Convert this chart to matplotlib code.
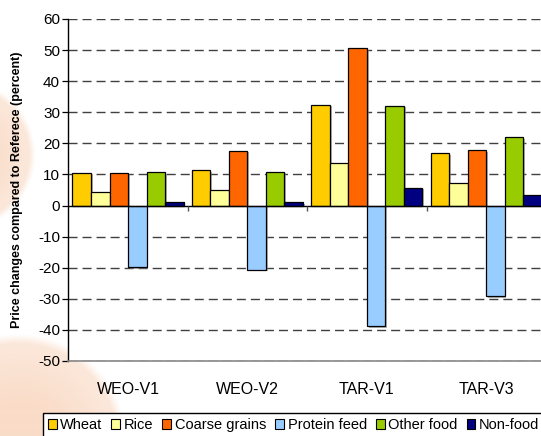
import numpy as np
import matplotlib
matplotlib.use("Agg")
import matplotlib.pyplot as plt
import matplotlib.patheffects as pe

plt.rcParams["font.family"] = ["Liberation Sans", "DejaVu Sans"]
plt.rcParams["lines.scale_dashes"] = False

categories = ["WEO-V1", "WEO-V2", "TAR-V1", "TAR-V3"]
series_names = ["Wheat", "Rice", "Coarse grains", "Protein feed", "Other food", "Non-food"]
wheat = [10.6, 11.4, 32.4, 16.8]
rice = [4.3, 5.1, 13.6, 7.1]
coarse_grains = [10.6, 17.6, 50.6, 17.9]
protein_feed = [-19.8, -20.6, -38.8, -29.2]
other_food = [10.7, 10.9, 32.1, 22.0]
non_food = [1.2, 1.1, 5.8, 3.3]
yticks = list(range(-50, 61, 10))

series = [wheat, rice, coarse_grains, protein_feed, other_food, non_food]
colors = ["#FFCC00", "#FFFF99", "#FF6600", "#99CCFF", "#99CC00", "#000080"]

W, H = 541, 436
fig = plt.figure(figsize=(W / 100, H / 100), dpi=100)

# soft peach decoration behind the chart
bg = fig.add_axes([0, 0, 1, 1], zorder=-10)
yy, xx = np.mgrid[0:H, 0:W]
img = np.ones((H, W, 3))
peach_in = np.array([250, 220, 200]) / 255
peach_out = np.array([252, 234, 222]) / 255
weight = np.zeros((H, W))
tint = np.zeros((H, W))
for cx, cy, r in [(-40, 155, 75), (18, 442, 108)]:
    d = np.hypot(xx - cx, yy - cy) / r
    w = np.clip((1.0 - d) / 0.08, 0, 1)
    weight = np.maximum(weight, w)
    tint = np.maximum(tint, np.clip(1 - d, 0, 1) * w)
for k in range(3):
    col = peach_out[k] + (peach_in[k] - peach_out[k]) * np.clip(tint * 1.6, 0, 1)
    img[..., k] = 1 - weight * (1 - col)
bg.imshow(img, extent=(0, W, H, 0), aspect="auto", interpolation="bilinear")
bg.set_axis_off()

left_px, right_px, top_px, bottom_px = 68.3, 546.0, 19.0, 361.0
ax = fig.add_axes([left_px / W, 1 - bottom_px / H, (right_px - left_px) / W,
                   (bottom_px - top_px) / H])
ax.set_facecolor("white")

n = len(series)
bw = 0.155
x = np.arange(len(categories)) + 0.5
shadow = [pe.SimplePatchShadow(offset=(1.2, -1.2), shadow_rgbFace="#808080", alpha=0.6),
          pe.Normal()]
handles = []
for j, (vals, c, name) in enumerate(zip(series, colors, series_names)):
    bars = ax.bar(x + (j - (n - 1) / 2) * bw, vals, width=bw, color=c,
                  edgecolor="black", linewidth=0.9, label=name, zorder=3)
    for b in bars:
        b.set_path_effects(shadow)
    handles.append(bars)

ax.set_xlim(0, len(categories))
ax.set_ylim(-50, 60)
ax.set_yticks(yticks)
ax.set_yticklabels([str(v) for v in yticks], fontsize=11)
ax.tick_params(axis="y", direction="out", length=4, width=0.9, pad=2, color="black")

for v in yticks:
    if v == 0:
        continue
    ax.axhline(v, color="#404040", linewidth=1.0, dashes=(6.5, 3.6), zorder=1)

ax.axhline(0, color="black", linewidth=1.0, zorder=4)
ax.vlines(np.arange(1, len(categories)), -1.6, 0, color="#555555", linewidth=1.0, zorder=4)

ax.set_xticks(x)
ax.set_xticklabels(categories, fontsize=11.5)
ax.tick_params(axis="x", length=0, pad=15)

for s in ["top", "right"]:
    ax.spines[s].set_visible(False)
ax.spines["left"].set_color("black")
ax.spines["left"].set_linewidth(1.0)
ax.spines["bottom"].set_color("#888888")
ax.spines["bottom"].set_linewidth(1.2)

ax.set_ylabel("Price changes compared to Referece (percent)", fontsize=9,
              fontweight="bold")
ax.yaxis.set_label_coords(-(left_px - 23) / (right_px - left_px), 0.5)

leg = fig.legend(handles=handles, labels=series_names, loc="upper left",
                 bbox_to_anchor=(42.7 / W, 1 - 413 / H), ncol=6, fontsize=10.5,
                 frameon=True, fancybox=False, edgecolor="black", facecolor="white",
                 framealpha=1, handlelength=0.6, handleheight=0.6, handletextpad=0.25,
                 columnspacing=0.62, borderpad=0.35, borderaxespad=0)
leg.get_frame().set_linewidth(1.0)
for h in leg.legend_handles:
    h.set_path_effects([])
    h.set_linewidth(0.8)

fig.savefig("out.png", dpi=100)
